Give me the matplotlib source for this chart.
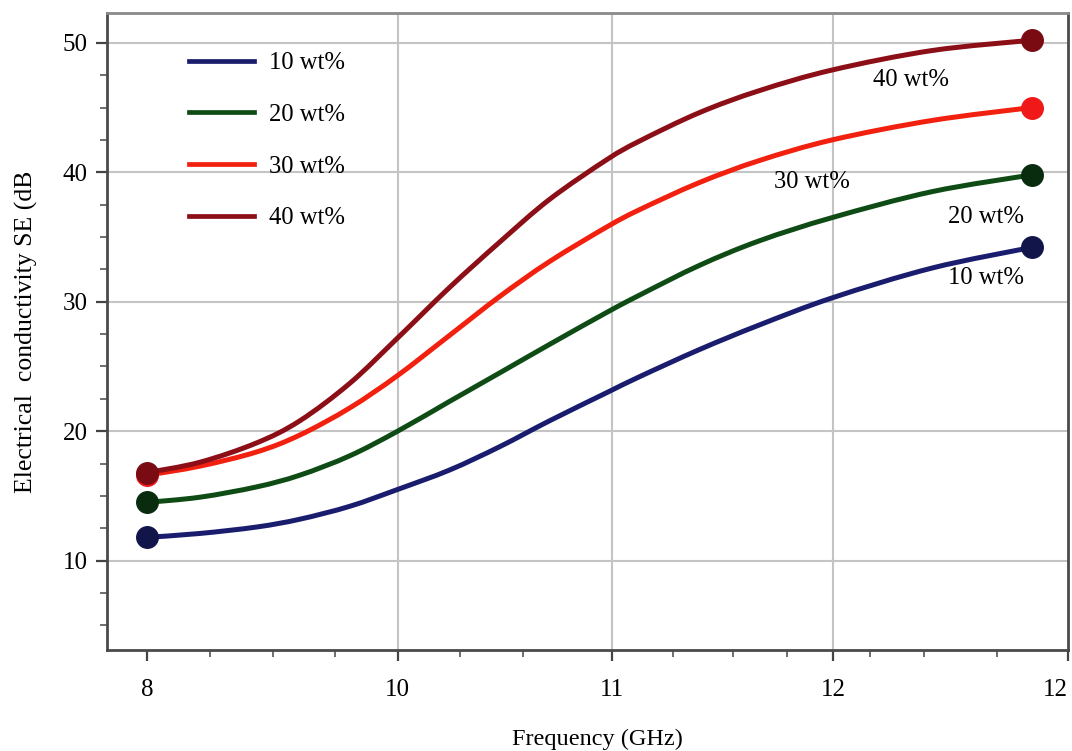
import matplotlib
matplotlib.use("Agg")
import matplotlib.pyplot as plt
from matplotlib.path import Path
from matplotlib.patches import PathPatch
from matplotlib.lines import Line2D

plt.rcParams['font.family'] = ['Liberation Serif', 'DejaVu Serif']

# Axis positions (frequency-like units) and odd tick labels
tick_pos = [8.0, 9.091, 10.022, 10.987, 12.009]
tick_labels = ['8', '10', '11', '12', '12']
minor_pos = [8.274, 8.548, 8.817, 9.361, 9.635, 10.291, 10.552, 10.787,
             11.148, 11.383, 11.700]

freq = [8.0, 8.230, 8.478, 8.665, 8.883, 9.091, 9.317, 9.535, 9.752, 10.004,
        10.143, 10.404, 10.665, 10.983, 11.417, 11.852]
se_10 = [11.8, 12.1, 12.6, 13.2, 14.2, 15.5, 17.0, 18.8, 20.8, 23.0,
         24.2, 26.3, 28.2, 30.3, 32.6, 34.2]
se_20 = [14.5, 14.9, 15.7, 16.6, 18.1, 20.0, 22.3, 24.5, 26.7, 29.2,
         30.5, 32.8, 34.7, 36.5, 38.5, 39.8]
se_30 = [16.6, 17.3, 18.4, 19.7, 21.8, 24.3, 27.4, 30.4, 33.1, 35.8,
         37.1, 39.2, 40.9, 42.5, 44.0, 45.0]
se_40 = [16.8, 17.6, 19.1, 20.8, 23.7, 27.2, 31.1, 34.6, 37.9, 41.0,
         42.4, 44.6, 46.3, 47.9, 49.4, 50.2]

labels = ['10 wt%', '20 wt%', '30 wt%', '40 wt%']
line_colors = ['#1a1d6e', '#0f4c15', '#f2200f', '#8c0f17']
marker_colors = ['#11154a', '#0a2c0e', '#f01818', '#7a0b12']

# in-plot annotations (x, y)
ann_x = [11.652, 11.652, 10.896, 11.326]
ann_y = [31.85, 36.56, 39.27, 47.14]

FS = 17.7


def smooth_path(xs, ys):
    """Catmull-Rom curve through the data points, as cubic Bezier segments."""
    n = len(xs)
    verts = [(xs[0], ys[0])]
    codes = [Path.MOVETO]
    for i in range(n - 1):
        x0, y0 = (xs[i - 1], ys[i - 1]) if i > 0 else (xs[i], ys[i])
        x1, y1 = xs[i], ys[i]
        x2, y2 = xs[i + 1], ys[i + 1]
        x3, y3 = (xs[i + 2], ys[i + 2]) if i + 2 < n else (xs[i + 1], ys[i + 1])
        c1 = (x1 + (x2 - x0) / 6.0, y1 + (y2 - y0) / 6.0)
        c2 = (x2 - (x3 - x1) / 6.0, y2 - (y3 - y1) / 6.0)
        verts += [c1, c2, (x2, y2)]
        codes += [Path.CURVE4] * 3
    return Path(verts, codes)


fig = plt.figure(figsize=(10.72, 7.51), dpi=100)
ax = fig.add_axes([0.0998, 0.1345, 0.8965, 0.8482])

series = [se_10, se_20, se_30, se_40]
handles = []
for k, (vals, lab, lc, mc) in enumerate(zip(series, labels, line_colors, marker_colors)):
    patch = PathPatch(smooth_path(freq, vals), facecolor='none', edgecolor=lc,
                      lw=3.6, capstyle='round', joinstyle='round',
                      transform=ax.transData, zorder=3 + k * 0.1)
    ax.add_patch(patch)
    ax.plot([freq[0], freq[-1]], [vals[0], vals[-1]], linestyle='none',
            marker='o', markersize=15.5, markerfacecolor=mc,
            markeredgecolor=mc, zorder=3.05 + k * 0.1)
    handles.append(Line2D([], [], color=lc, lw=3.4, label=lab))

for lab, x, y in zip(labels, ann_x, ann_y):
    ax.text(x, y, lab, fontsize=FS, ha='center', va='center', zorder=4)

ax.set_xlim(7.826, 12.009)
ax.set_ylim(3.1, 52.3)
ax.set_xticks(tick_pos)
ax.set_xticklabels(tick_labels)
ax.set_xticks(minor_pos, minor=True)
ax.set_yticks([10, 20, 30, 40, 50])
ax.set_yticks([5, 7.5, 12.5, 15, 17.5, 22.5, 25, 27.5, 32.5, 35, 37.5,
               42.5, 45, 47.5], minor=True)

ax.tick_params(axis='both', which='major', labelsize=18, length=8,
               width=1.6, color='#444444', direction='out')
ax.tick_params(axis='both', which='minor', length=5, width=1.2,
               color='#555555', direction='out')
ax.tick_params(axis='x', which='major', pad=13)
ax.tick_params(axis='y', which='major', pad=6)
xt = ax.get_xticklabels()
xt[-1].set_horizontalalignment('right')

# grid lines
for y in [10, 20, 30, 40, 50]:
    ax.axhline(y, color='#c4c4c4', lw=1.5, zorder=1)
for x in tick_pos[1:4]:
    ax.axvline(x, color='#c4c4c4', lw=1.5, zorder=1)

for side in ['left', 'bottom', 'right']:
    ax.spines[side].set_color('#4a4a4a')
    ax.spines[side].set_linewidth(2.0)
ax.spines['top'].set_color('#8a8a8a')
ax.spines['top'].set_linewidth(2.0)

ax.set_xlabel('Frequency (GHz)', fontsize=17.5)
ax.xaxis.set_label_coords(0.51, -0.124)
ax.set_ylabel('Electrical  conductivity SE (dB', fontsize=18.5)
ax.yaxis.set_label_coords(-0.072, 0.5)

leg = ax.legend(handles=handles, loc='upper left', bbox_to_anchor=(0.075, 0.954),
                frameon=False, fontsize=FS, handlelength=2.64,
                handletextpad=0.6, labelspacing=1.2, borderaxespad=0.0)

fig.savefig('out.png', dpi=100)
